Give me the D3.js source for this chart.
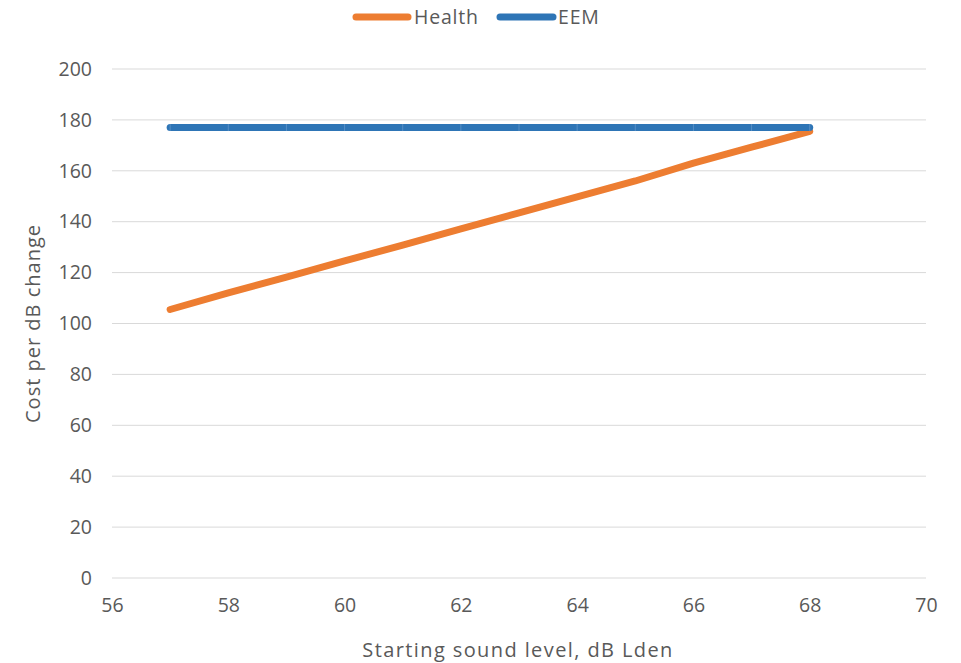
<!DOCTYPE html>
<html><head><meta charset="utf-8">
<script src="https://cdn.jsdelivr.net/npm/d3@7"></script>
<style>body{margin:0;background:#fff}svg{display:block}text{font-family:"Open Sans",sans-serif}</style>
</head><body>
<script>
const levels = [57,58,59,60,61,62,63,64,65,66,67,68];
const health = [105.5,112,118.2,124.6,130.8,137.2,143.5,149.8,156,163,169.3,175.5];
const eem = [177,177,177,177,177,177,177,177,177,177,177,177];
const seriesNames = ["Health","EEM"];
const seriesColors = ["#ED7D31","#2E75B6"];
const xTicks = [56,58,60,62,64,66,68,70];
const yTicks = [0,20,40,60,80,100,120,140,160,180,200];

const W=961,H=663;
const svg=d3.select("body").append("svg").attr("width",W).attr("height",H);
const x=d3.scaleLinear().domain([56,70]).range([112,926]);
const y=d3.scaleLinear().domain([0,200]).range([578,69]);
const tc="#595959";

// gridlines
svg.append("g").selectAll("line").data(yTicks).join("line")
  .attr("x1",x(56)).attr("x2",x(70)).attr("y1",d=>y(d)).attr("y2",d=>y(d))
  .attr("stroke","#d9d9d9").attr("stroke-width",1);

// y axis labels
const ya=svg.append("g").attr("transform",`translate(${x(56)},0)`)
  .call(d3.axisLeft(y).tickValues(yTicks).tickSize(0).tickPadding(20));
ya.select(".domain").remove();
ya.selectAll("text").attr("fill",tc).style("font-size","19.5px").style("font-family","'Open Sans',sans-serif");

// x axis labels
const xa=svg.append("g").attr("transform",`translate(0,${y(0)})`)
  .call(d3.axisBottom(x).tickValues(xTicks).tickSize(0).tickPadding(20));
xa.select(".domain").remove();
xa.selectAll("text").attr("fill",tc).style("font-size","19.5px").style("font-family","'Open Sans',sans-serif");

// titles
svg.append("text").attr("x",518).attr("y",657).attr("text-anchor","middle")
  .attr("fill",tc).style("font-size","20px").style("letter-spacing","1.4px").text("Starting sound level, dB Lden");
svg.append("text").attr("transform",`translate(40,${(y(0)+y(200))/2}) rotate(-90)`)
  .attr("text-anchor","middle").attr("fill",tc).style("font-size","20px").style("letter-spacing","1px").text("Cost per dB change");

// lines
const line=d3.line().x((d,i)=>x(levels[i])).y(d=>y(d));
[health,eem].forEach((s,k)=>{
  svg.append("path").datum(s).attr("d",line).attr("fill","none")
    .attr("stroke",seriesColors[k]).attr("stroke-width",7)
    .attr("stroke-linecap","round").attr("stroke-linejoin","round");
});
// faint point marks on EEM
svg.append("g").selectAll("line").data(eem).join("line")
  .attr("x1",(d,i)=>x(levels[i])).attr("x2",(d,i)=>x(levels[i]))
  .attr("y1",d=>y(d)-3.5).attr("y2",d=>y(d)+3.5)
  .attr("stroke","#6f9fd0").attr("stroke-width",1).attr("opacity",0.6);

// legend
const lg=svg.append("g");
const leg=[{n:seriesNames[0],c:seriesColors[0],x1:356,x2:408,tx:414},{n:seriesNames[1],c:seriesColors[1],x1:500,x2:553,tx:558}];
leg.forEach(l=>{
  lg.append("line").attr("x1",l.x1).attr("x2",l.x2).attr("y1",17).attr("y2",17)
    .attr("stroke",l.c).attr("stroke-width",7).attr("stroke-linecap","round");
  lg.append("text").attr("x",l.tx).attr("y",24).attr("fill",tc).style("font-size","19.5px").style("letter-spacing","0.8px").text(l.n);
});
</script>
</body></html>
